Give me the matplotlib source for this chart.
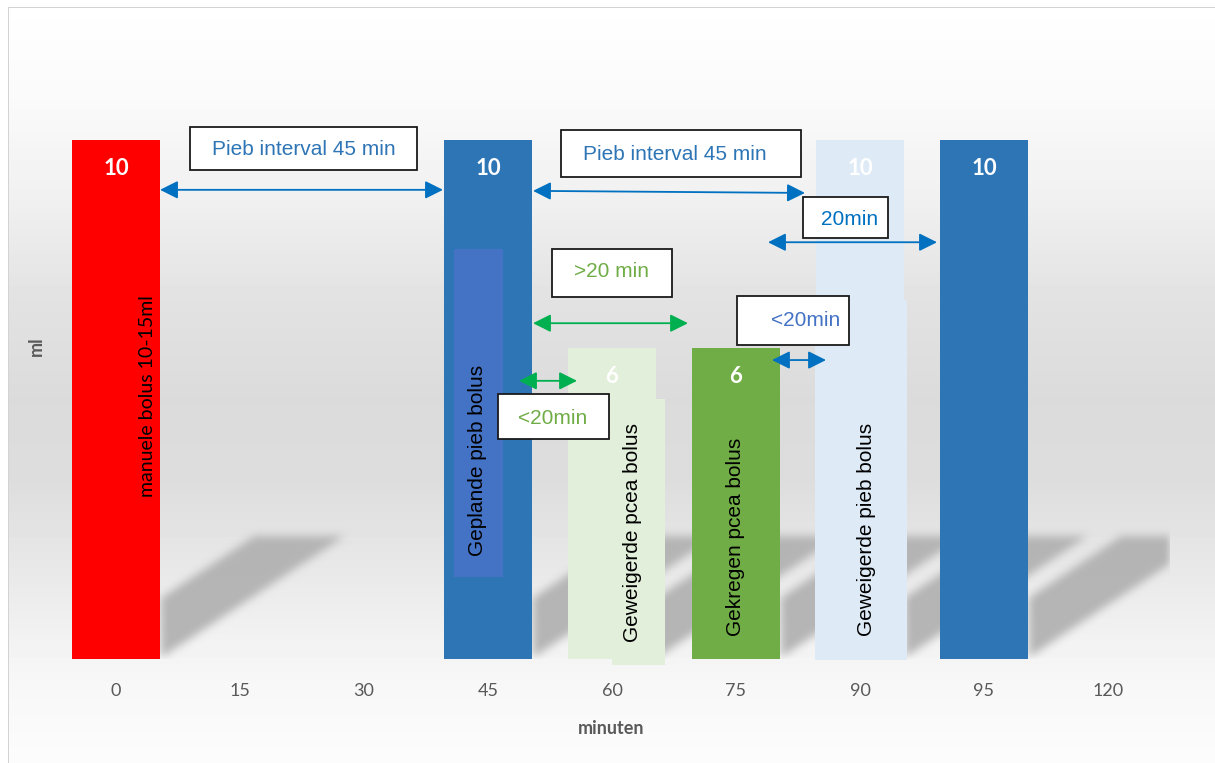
import numpy as np
import matplotlib.pyplot as plt
from matplotlib.patches import Rectangle

# data
minuten = ['0', '15', '30', '45', '60', '75', '90', '95', '120']
ml = [10, 0, 0, 10, 6, 6, 10, 10, 0]
bar_colors = ['#ff0000', 'none', 'none', '#2e75b6', '#e2efda', '#70ad47', '#deebf7', '#2e75b6', 'none']
bar_labels = ['10', '', '', '10', '6', '6', '10', '10', '']

# extra shapes on top of the bars: (x0, x1, y0, y1, colour)
vakken = [
    (2.726, 3.121, 1.58, 7.90, '#4472c4'),
    (4.000, 4.427, -0.12, 5.01, '#e2efda'),
    (5.637, 6.379, -0.02, 6.92, '#deebf7'),
]

# vertical labels: (text, x, y, family, size)
staand = [
    ('manuele bolus 10-15ml', 0.258, 5.07, 'Lato', 14),
    ('Geplande pieb bolus', 2.919, 3.83, 'Liberation Sans', 15),
    ('Geweigerde pcea bolus', 4.169, 2.43, 'Liberation Sans', 15),
    ('Gekregen pcea bolus', 4.992, 2.35, 'Liberation Sans', 15),
    ('Geweigerde pieb bolus', 6.056, 2.49, 'Liberation Sans', 15),
]

# text boxes: (text, x0, x1, y0, y1, tx, ty, colour)
kaders = [
    ('Pieb interval 45 min', 0.597, 2.427, 9.42, 10.25, 1.516, 9.81, '#2e75b6'),
    ('Pieb interval 45 min', 3.589, 5.524, 9.29, 10.19, 4.508, 9.73, '#2e75b6'),
    ('20min', 5.540, 6.226, 8.11, 8.90, 5.919, 8.46, '#0070c0'),
    ('>20 min', 3.516, 4.484, 6.97, 7.90, 3.992, 7.46, '#70ad47'),
    ('<20min', 5.008, 5.911, 6.05, 6.99, 5.565, 6.53, '#4472c4'),
    ('<20min', 3.081, 3.976, 4.24, 5.11, 3.524, 4.64, '#70ad47'),
]

# double arrows: (x0, y0, x1, y1, colour)
pijlen = [
    (0.355, 9.04, 2.637, 9.04, '#0070c0'),
    (3.363, 9.02, 5.556, 8.98, '#0070c0'),
    (5.258, 8.03, 6.621, 8.03, '#0070c0'),
    (3.363, 6.47, 4.613, 6.47, '#00b050'),
    (3.250, 5.36, 3.718, 5.36, '#00b050'),
    (5.290, 5.76, 5.726, 5.76, '#0070c0'),
]

W, H = 1215, 763
fig = plt.figure(figsize=(W / 100, H / 100), dpi=100)

# background gradient + frame
bg = fig.add_axes([0, 0, 1, 1], zorder=-10)
rows = np.arange(H)
grey = np.interp(rows, [0, 100, 200, 300, 400, 480, 560, 640, 680, 763],
                 [255, 250, 240, 226, 219, 221, 231, 242, 247, 252]) / 255
img = np.repeat(grey[:, None], W, axis=1)
img[:7, :] = 1
img[:, :8] = 1
img[7, 8:] = 0.83
img[7:, 8] = 0.83
bg.imshow(img, cmap='gray', vmin=0, vmax=1, aspect='auto', extent=(0, W, H, 0))
bg.set_xlim(0, W)
bg.set_ylim(H, 0)
bg.axis('off')

ax = fig.add_axes([54 / W, 104 / H, 1116 / W, 622.8 / H])
ax.patch.set_visible(False)

# floor shadows
xs = np.linspace(-0.5, 8.5, 1116)
ys = np.linspace(0, 3, 156)
X, Y = np.meshgrid(xs, ys)
mask = np.zeros_like(X)
for i, v in enumerate(ml):
    if v <= 0:
        continue
    xr = i + 0.355
    inside = ((Y <= 2.35) & (X >= xr) & (X <= xr + Y * 1.476 / 2.35)
              & (X >= xr + (Y - 1.156) * 0.75 / 1.194))
    mask = np.maximum(mask, inside.astype(float))


def blur(a, k):
    kern = np.ones(k) / k
    a = np.apply_along_axis(lambda r: np.convolve(r, kern, mode='same'), 1, a)
    a = np.apply_along_axis(lambda c: np.convolve(c, kern, mode='same'), 0, a)
    return a


mask = blur(blur(mask, 10), 10)
shadow = np.zeros(mask.shape + (4,))
shadow[..., :3] = 0.70
shadow[..., 3] = np.clip(mask * 0.95, 0, 1)
ax.imshow(shadow, origin='lower', extent=(-0.5, 8.5, 0, 3), aspect='auto', zorder=1)

x = np.arange(len(minuten))
ax.bar(x, ml, width=0.715, color=bar_colors, zorder=2)

for x0, x1, y0, y1, c in vakken:
    ax.add_patch(Rectangle((x0, y0), x1 - x0, y1 - y0, facecolor=c, edgecolor='none',
                           zorder=3, clip_on=False))

for i, (v, t) in enumerate(zip(ml, bar_labels)):
    if t:
        ax.text(i, v - 0.55, t, color='white', fontsize=16, fontweight='bold',
                family='Lato', ha='center', va='center', zorder=4)

for t, tx, ty, fam, fs in staand:
    ax.text(tx, ty, t, rotation=90, fontsize=fs, family=fam, color='black',
            ha='center', va='center', zorder=4)

for x0, y0, x1, y1, c in pijlen:
    ax.annotate('', xy=(x1, y1), xytext=(x0, y0), zorder=5,
                arrowprops=dict(arrowstyle='<|-|>,head_length=0.9,head_width=0.45',
                                color=c, lw=1.3, mutation_scale=12,
                                shrinkA=0, shrinkB=0))

for t, x0, x1, y0, y1, tx, ty, c in kaders:
    ax.add_patch(Rectangle((x0, y0), x1 - x0, y1 - y0, facecolor='white',
                           edgecolor='#1a1a1a', lw=1.3, zorder=6))
    ax.text(tx, ty, t, color=c, fontsize=15, family='Liberation Sans',
            ha='center', va='center', zorder=7)

ax.set_xlim(-0.5, 8.5)
ax.set_ylim(0, 12)
ax.set_xticks(x)
ax.set_xticklabels(minuten, fontsize=13, family='Lato', color='#595959')
ax.tick_params(bottom=False, left=False, labelleft=False, pad=14)
for s in ax.spines.values():
    s.set_visible(False)

fig.text(611 / W, 1 - 728 / H, 'minuten', fontsize=13, fontweight='bold', family='Lato',
         color='#595959', ha='center', va='center')
fig.text(36 / W, 1 - 346 / H, 'ml', fontsize=13, fontweight='bold', family='Lato',
         color='#595959', ha='center', va='center', rotation=90)

fig.savefig('out.png', dpi=100)
